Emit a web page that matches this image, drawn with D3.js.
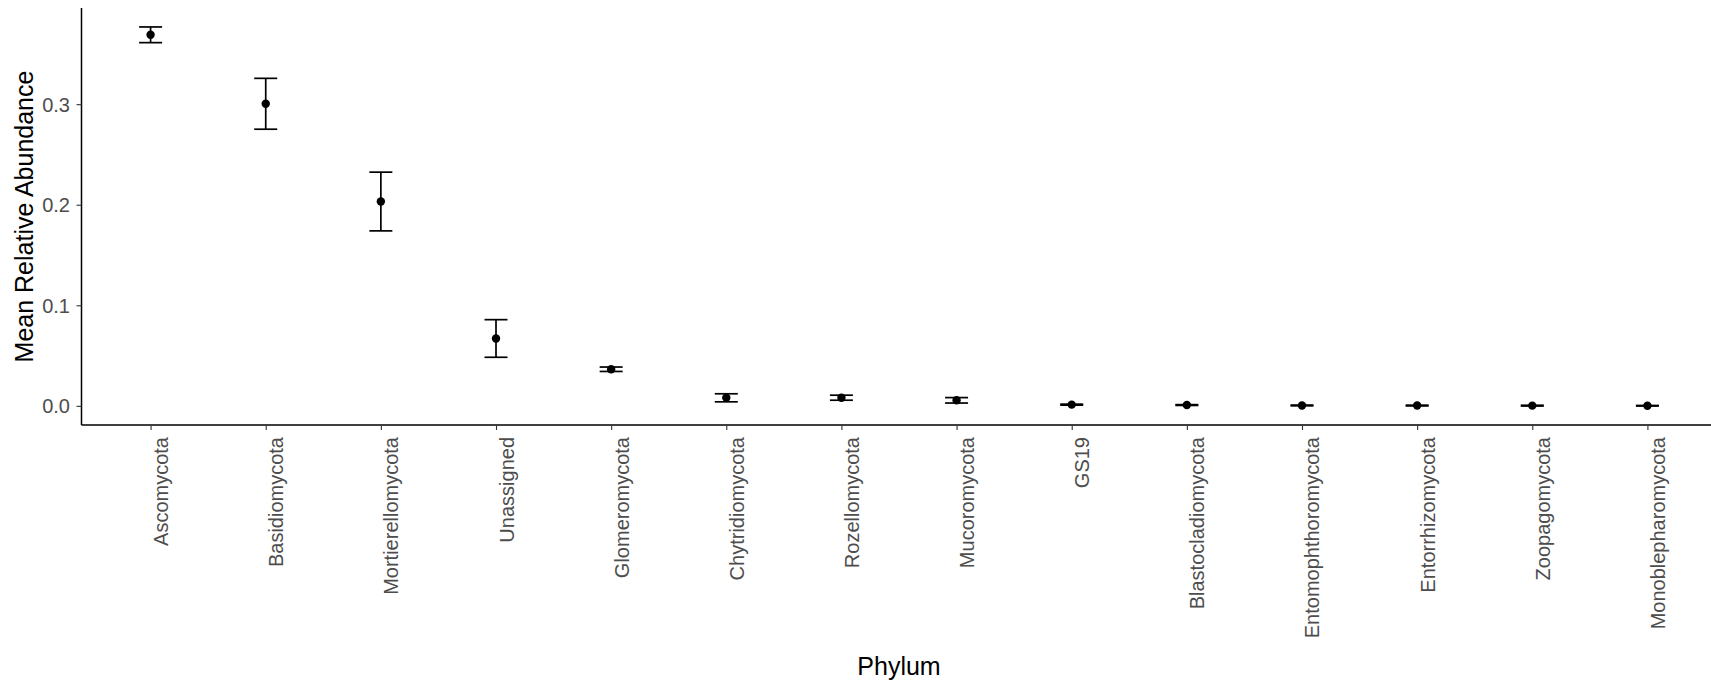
<!DOCTYPE html>
<html>
<head>
<meta charset="utf-8">
<script src="https://cdn.jsdelivr.net/npm/d3@7"></script>
<style>
  body { margin: 0; background: #fff; }
  svg { display: block; font-family: "Liberation Sans", Arial, sans-serif; }
</style>
</head>
<body>
<div id="chart"></div>
<script>
// mean relative abundance per phylum, with standard error
const phyla = ["Ascomycota", "Basidiomycota", "Mortierellomycota", "Unassigned",
  "Glomeromycota", "Chytridiomycota", "Rozellomycota", "Mucoromycota", "GS19",
  "Blastocladiomycota", "Entomophthoromycota", "Entorrhizomycota",
  "Zoopagomycota", "Monoblepharomycota"];
const means = [0.369, 0.3004, 0.2032, 0.067, 0.0364, 0.008, 0.0081, 0.0055,
  0.0012, 0.0008, 0.0004, 0.0003, 0.0002, 0.0001];
const errors = [0.0078, 0.0253, 0.0292, 0.0187, 0.0022, 0.004, 0.0025, 0.0027,
  0.0005, 0.0004, 0.0004, 0.0004, 0.0004, 0.0003];
const yTicks = [0, 0.1, 0.2, 0.3];

const data = phyla.map((p, i) => ({phylum: p, mean: means[i], se: errors[i]}));

const width = 1711, height = 684;
// panel bounds (right edge runs past the picture, as in the original)
const panel = {left: 81.5, right: 1716.5, top: 8, bottom: 425};

const svg = d3.select("#chart")
  .append("svg")
  .attr("width", width)
  .attr("height", height);

// x: discrete scale, 0.6 step of padding on both sides
const x = d3.scalePoint()
  .domain(phyla)
  .range([panel.left, panel.right])
  .padding(0.6);

// y: 5% expansion on each side of the data range
const lo = Math.min(0, d3.min(data, d => d.mean - d.se));
const hi = d3.max(data, d => d.mean + d.se);
const pad = (hi - lo) * 0.05;
const y = d3.scaleLinear()
  .domain([lo - pad, hi + pad])
  .range([panel.bottom, panel.top]);

// X axis
const xAxis = svg.append("g")
  .attr("transform", "translate(0," + panel.bottom + ")")
  .call(d3.axisBottom(x).tickSize(5).tickSizeOuter(0));
xAxis.select(".domain")
  .attr("d", "M" + panel.left + ",0H" + panel.right)
  .attr("stroke", "#000").attr("stroke-width", 1.5);
xAxis.selectAll(".tick line").attr("stroke", "#333").attr("stroke-width", 1.1);
xAxis.selectAll(".tick text")
  .attr("transform", "rotate(-90)")
  .attr("x", -12)
  .attr("y", 0)
  .attr("dy", "17px")
  .attr("text-anchor", "end")
  .attr("fill", "#4d4d4d")
  .style("font-size", "20px")
  .style("font-family", "'Liberation Sans', Arial, sans-serif");

// Y axis
const yAxis = svg.append("g")
  .attr("transform", "translate(" + panel.left + ",0)")
  .call(d3.axisLeft(y).tickValues(yTicks).tickFormat(d3.format(".1f"))
    .tickSize(5).tickPadding(6.5).tickSizeOuter(0));
yAxis.select(".domain")
  .attr("d", "M0," + panel.top + "V" + panel.bottom)
  .attr("stroke", "#000").attr("stroke-width", 1.5);
yAxis.selectAll(".tick line").attr("stroke", "#333").attr("stroke-width", 1.1);
yAxis.selectAll(".tick text")
  .attr("fill", "#4d4d4d")
  .attr("dy", "0.35em")
  .style("font-size", "20px")
  .style("font-family", "'Liberation Sans', Arial, sans-serif");

// error bars
const capW = 11.5;
const bars = svg.append("g")
  .attr("stroke", "#000")
  .attr("stroke-width", 1.7)
  .selectAll("g")
  .data(data)
  .enter()
  .append("g");
bars.append("line")
  .attr("x1", d => x(d.phylum)).attr("x2", d => x(d.phylum))
  .attr("y1", d => y(d.mean + d.se)).attr("y2", d => y(d.mean - d.se));
bars.append("line")
  .attr("x1", d => x(d.phylum) - capW).attr("x2", d => x(d.phylum) + capW)
  .attr("y1", d => y(d.mean + d.se)).attr("y2", d => y(d.mean + d.se));
bars.append("line")
  .attr("x1", d => x(d.phylum) - capW).attr("x2", d => x(d.phylum) + capW)
  .attr("y1", d => y(d.mean - d.se)).attr("y2", d => y(d.mean - d.se));

// points
svg.append("g")
  .selectAll("circle")
  .data(data)
  .enter()
  .append("circle")
    .attr("cx", d => x(d.phylum))
    .attr("cy", d => y(d.mean))
    .attr("r", 4.2)
    .attr("fill", "#000");

// axis titles
svg.append("text")
  .attr("x", (panel.left + panel.right) / 2)
  .attr("y", 675)
  .attr("text-anchor", "middle")
  .style("font-size", "25px")
  .text("Phylum");

svg.append("text")
  .attr("transform", "translate(33," + (panel.top + panel.bottom) / 2 + ") rotate(-90)")
  .attr("text-anchor", "middle")
  .style("font-size", "25px")
  .text("Mean Relative Abundance");
</script>
</body>
</html>
